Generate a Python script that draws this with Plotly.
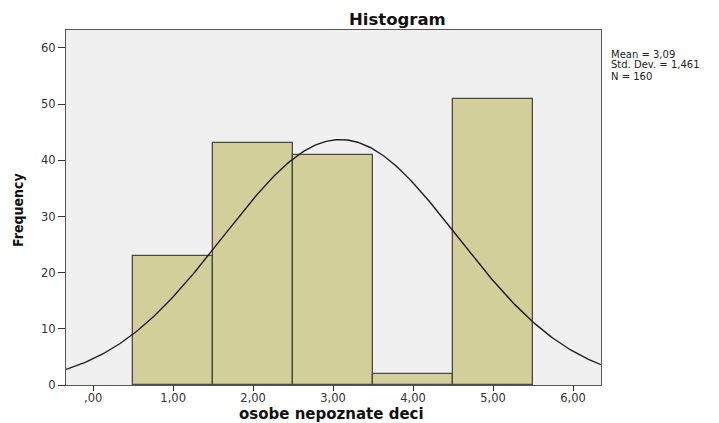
import numpy as np
import plotly.graph_objects as go

# Data
bin_centers = [1.0, 2.0, 3.0, 4.0, 5.0]
frequencies = [23, 43, 41, 2, 51]
MEAN = 3.09
SD = 1.461
N = 160
BIN_WIDTH = 1.0
x_tick_vals = [0, 1, 2, 3, 4, 5, 6]
x_tick_text = [",00", "1,00", "2,00", "3,00", "4,00", "5,00", "6,00"]
y_tick_vals = [0, 10, 20, 30, 40, 50, 60]
stats_lines = ["Mean = 3,09", "Std. Dev. = 1,461", "N = 160"]

X_RANGE = [-0.34, 6.35]
Y_RANGE = [0, 63.2]

# Fitted normal curve from the reported statistics
xs = np.linspace(X_RANGE[0], X_RANGE[1], 300)
ys = N * BIN_WIDTH / (SD * np.sqrt(2 * np.pi)) * np.exp(-0.5 * ((xs - MEAN) / SD) ** 2)

fig = go.Figure()
fig.add_trace(go.Bar(
    x=bin_centers, y=frequencies, width=BIN_WIDTH,
    marker=dict(color="#D3CF9B", line=dict(color="#4A4A44", width=1.3)),
    hoverinfo="x+y", showlegend=False,
))
fig.add_trace(go.Scatter(
    x=xs, y=ys, mode="lines",
    line=dict(color="#1E1E1E", width=1.4),
    showlegend=False, hoverinfo="skip",
))

tick_font = dict(family="DejaVu Sans, Verdana, sans-serif", size=11.5, color="#333333")

# page pixel geometry of plot area (page has 8px body margin)
PL, PR, PT, PB = 66, 601, 30, 385
PW, PH = PR - PL, PB - PT

def px(xp):
    return (xp - PL) / PW

def py(yp):
    return (PB - yp) / PH

annotations = [
    dict(text="<b>Histogram</b>", xref="paper", yref="paper",
         x=px(397), y=py(19), showarrow=False,
         font=dict(family="DejaVu Sans, Verdana, sans-serif", size=16.5, color="#111111"),
         xanchor="center", yanchor="middle"),
    dict(text="<b>Frequency</b>", xref="paper", yref="paper",
         x=px(18), y=py(210), textangle=-90, showarrow=False,
         font=dict(family="Liberation Sans Narrow, Arial Narrow, DejaVu Sans Condensed, sans-serif",
                   size=14, color="#111111"),
         xanchor="center", yanchor="middle"),
    dict(text="<b>osobe nepoznate deci</b>", xref="paper", yref="paper",
         x=px(331), y=py(414), showarrow=False,
         font=dict(family="DejaVu Sans, Verdana, sans-serif", size=15, color="#111111"),
         xanchor="center", yanchor="middle"),
]
for i, line in enumerate(stats_lines):
    annotations.append(dict(
        text=line, xref="paper", yref="paper",
        x=px(609), y=py(54 + 11 * i), showarrow=False, align="left",
        font=dict(family="DejaVu Sans, Verdana, sans-serif", size=10, color="#222222"),
        xanchor="left", yanchor="middle"))

fig.update_layout(
    width=711, height=415,
    margin=dict(l=PL - 8, r=711 - (PR - 8), t=PT - 8, b=415 - (PB - 8)),
    paper_bgcolor="white",
    plot_bgcolor="#F0F0F0",
    bargap=0,
    xaxis=dict(
        range=X_RANGE, tickmode="array", tickvals=x_tick_vals, ticktext=x_tick_text,
        ticks="outside", ticklen=5, tickwidth=1.3, tickcolor="#333333",
        ticklabelstandoff=-3,
        showgrid=False, zeroline=False,
        showline=True, linecolor="#555555", linewidth=1.3, mirror=True,
        tickfont=tick_font,
    ),
    yaxis=dict(
        range=Y_RANGE, tickmode="array", tickvals=y_tick_vals,
        ticks="outside", ticklen=7, tickwidth=1.3, tickcolor="#333333",
        showgrid=False, zeroline=False,
        showline=True, linecolor="#555555", linewidth=1.3, mirror=True,
        tickfont=tick_font,
    ),
    annotations=annotations,
)

fig.write_html("out.html")
